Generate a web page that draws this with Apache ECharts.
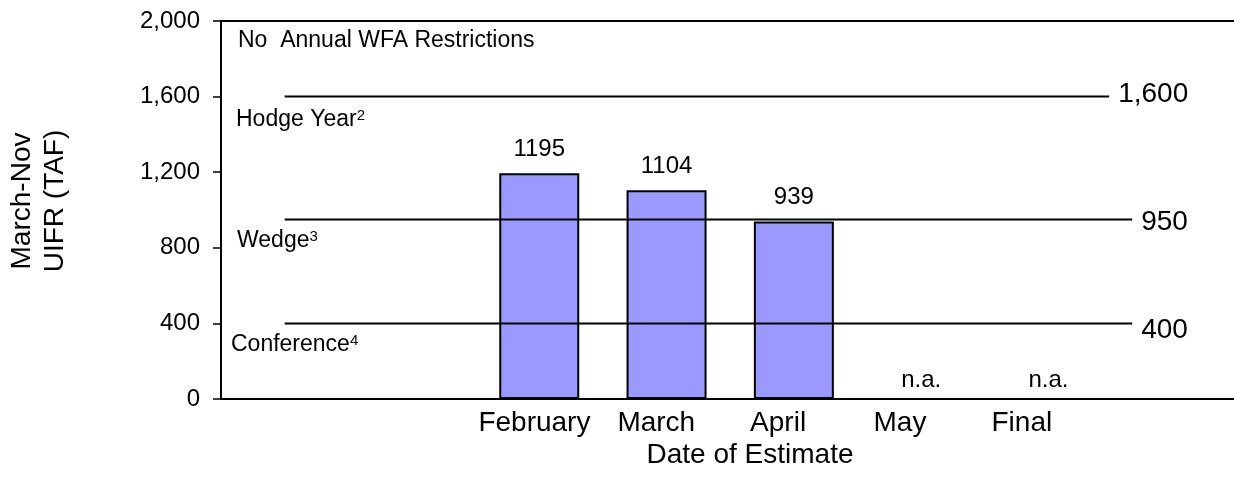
<!DOCTYPE html>
<html><head><meta charset="utf-8">
<script src="https://cdn.jsdelivr.net/npm/echarts@6/dist/echarts.min.js"></script>
<style>html,body{margin:0;padding:0;background:#fff}#c{width:1234px;height:479px}</style>
</head><body><div id="c"></div>
<script>
const categories = ['', '', 'February', 'March', 'April', 'May', 'Final', ''];
const uifrValues = [null, null, 1195, 1104, 939, null, null, null];
const naLabels = [null, null, null, null, null, 'n.a.', 'n.a.', null];
const thresholdValues = [1600, 950, 400];
const thresholdLabels = ['1,600', '950', '400'];
const zoneLabels = ['No  Annual WFA Restrictions', 'Hodge Year', 'Wedge', 'Conference'];
const zoneNotes = ['', '2', '3', '4'];
const yTicks = [0, 400, 800, 1200, 1600, 2000];
const yTitle = ['March-Nov', 'UIFR (TAF)'];
const xTitle = 'Date of Estimate';

const FONT = '"Liberation Sans", Arial, sans-serif';
const fmt = v => String(v).replace(/\B(?=(\d{3})+(?!\d))/g, ',');

// layout (style only)
const lineEnds = [6.477, 6.658, 6.658];
const endOffsets = [[0, -2], [0, 3], [0, 7]];
const zonePos = [[238, 42], [236, 121], [237, 242], [231, 346]];

const chart = echarts.init(document.getElementById('c'), null, {renderer: 'canvas'});

const series = [
  {
    type: 'bar', xAxisIndex: 0, yAxisIndex: 0,
    data: uifrValues, barWidth: 80,
    itemStyle: {color: '#9999FF', borderColor: '#000', borderWidth: 2},
    label: {show: true, position: 'top', distance: 12, fontSize: 24, color: '#000', fontFamily: FONT}
  },
  {
    type: 'scatter', xAxisIndex: 0, yAxisIndex: 0,
    symbolSize: 1, itemStyle: {color: 'rgba(0,0,0,0)', opacity: 1},
    data: naLabels.map(v => v ? 0 : null),
    label: {show: true, position: 'top', distance: 6, fontSize: 24, color: '#000', opacity: 1, fontFamily: FONT,
      formatter: p => naLabels[p.dataIndex] || ''}
  }
];
thresholdValues.forEach((v, i) => {
  series.push({
    type: 'line', xAxisIndex: 2, yAxisIndex: 0, symbol: 'none', silent: true,
    data: [[0, v], [lineEnds[i], v]],
    lineStyle: {color: '#000', width: 2},
    endLabel: {show: true, formatter: thresholdLabels[i], distance: 9, offset: endOffsets[i],
      fontSize: 28, color: '#000', fontFamily: FONT}
  });
});

const graphics = zoneLabels.map((t, i) => ({
  type: 'text', left: zonePos[i][0], top: zonePos[i][1] - 13,
  style: {
    text: zoneNotes[i] ? '{m|' + t + '}{s|' + zoneNotes[i] + '}' : '{m|' + t + '}',
    rich: {
      m: {fontSize: 23, fontFamily: FONT, fill: '#000'},
      s: {fontSize: 15, fontFamily: FONT, fill: '#000', verticalAlign: 'top'}
    }
  }
}));
graphics.push({
  type: 'text', x: 750, y: 455,
  style: {text: xTitle, font: '28px ' + FONT, fill: '#000', textAlign: 'center', textVerticalAlign: 'middle'}
});
graphics.push({
  type: 'text', x: 38.5, y: 201, rotation: Math.PI / 2,
  style: {text: yTitle.join('\n'), font: '28px ' + FONT, lineHeight: 33, fill: '#000', textAlign: 'center', textVerticalAlign: 'middle'}
});

chart.setOption({
  animation: false,
  textStyle: {fontFamily: FONT},
  grid: [
    {left: 221, top: 21, width: 1018.4, height: 378, show: true, borderColor: '#000', borderWidth: 2,
      backgroundColor: 'transparent', outerBoundsMode: 'none', containLabel: false},
    {left: 229.8, top: 21, width: 974.8, height: 378, show: false, outerBoundsMode: 'none', containLabel: false}
  ],
  xAxis: [
    {type: 'category', gridIndex: 0, data: categories, boundaryGap: true,
      axisLine: {show: true, onZero: false, lineStyle: {color: '#000', width: 2}}, axisTick: {show: false}, axisLabel: {show: false}, splitLine: {show: false}},
    {type: 'category', gridIndex: 1, data: categories, boundaryGap: true,
      axisLine: {show: false}, axisTick: {show: false},
      axisLabel: {show: true, interval: 0, fontSize: 28, color: '#000', fontFamily: FONT, margin: 10}},
    {type: 'value', gridIndex: 0, min: -0.5, max: 7.5, show: false}
  ],
  yAxis: [
    {type: 'value', gridIndex: 0, min: yTicks[0], max: yTicks[yTicks.length - 1], interval: yTicks[1] - yTicks[0],
      axisLine: {show: true, onZero: false, lineStyle: {color: '#000', width: 2}},
      axisTick: {show: true, length: 8, inside: false, lineStyle: {color: '#000', width: 1.5}},
      axisLabel: {fontSize: 24, color: '#000', fontFamily: FONT, margin: 21, formatter: fmt},
      splitLine: {show: false}},
    {type: 'value', gridIndex: 1, min: yTicks[0], max: yTicks[yTicks.length - 1], show: false}
  ],
  graphic: graphics,
  series: series
});
</script></body></html>
